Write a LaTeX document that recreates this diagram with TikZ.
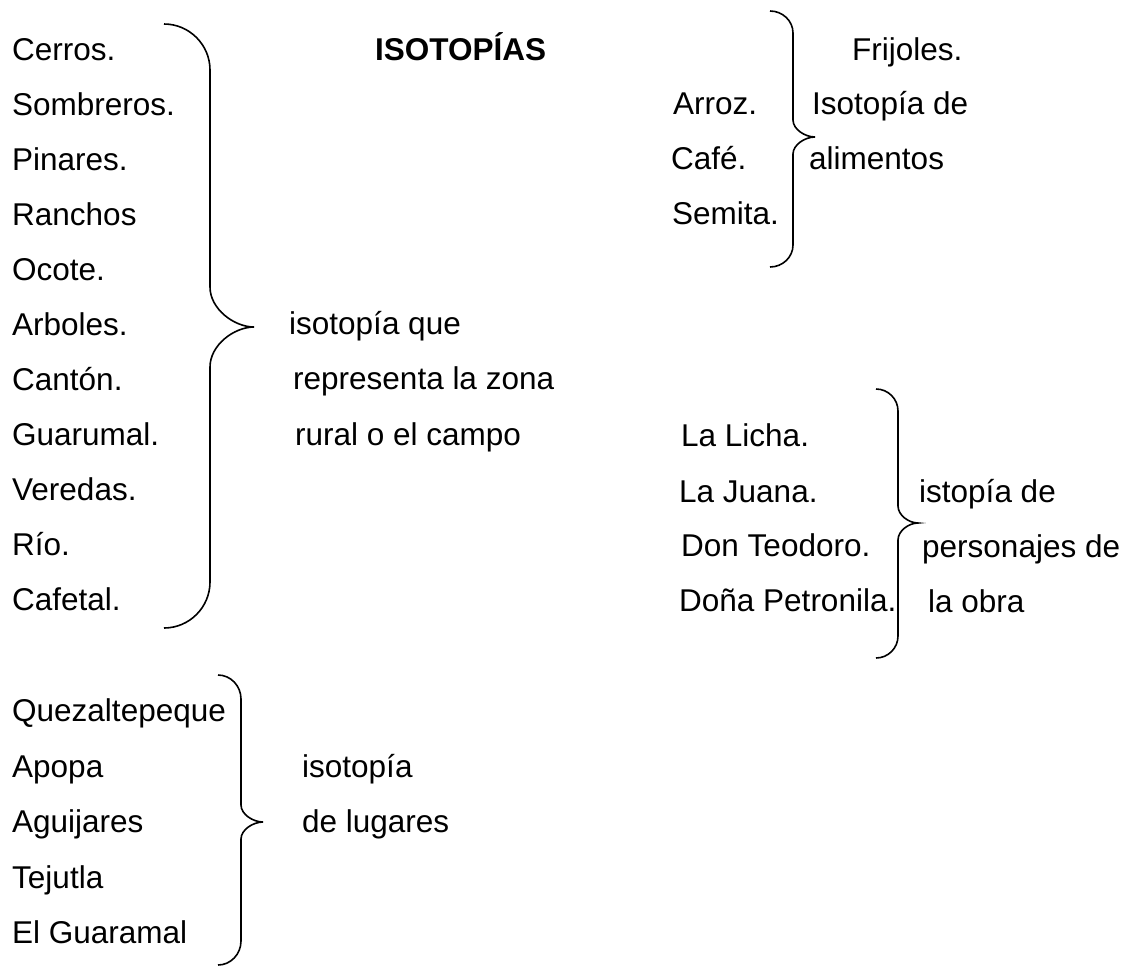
\documentclass[tikz,border=0pt]{standalone}
\usepackage{fontspec}
\setmainfont{Liberation Sans}
\newcommand\drawbrace[8]{% x0 x1 x2 ytop ym ybot rend rmid
  \draw[bracestyle] (#1,#4) .. controls ({#1+0.55*(#2-#1)},#4) and (#2,{#4+0.45*#7}) .. (#2,{#4+#7})
    -- (#2,{#5-#8}) .. controls (#2,{#5-0.45*#8}) and ({#2+0.55*(#3-#2)},#5) .. (#3,#5)
    .. controls ({#2+0.55*(#3-#2)},#5) and (#2,{#5+0.45*#8}) .. (#2,{#5+#8})
    -- (#2,{#6-#7}) .. controls (#2,{#6-0.45*#7}) and ({#1+0.55*(#2-#1)},#6) .. (#1,#6);}
\tikzset{
  lbl/.style={anchor=base west, inner sep=0pt, font=\fontsize{31.5}{38}\selectfont},
  ttl/.style={lbl, font=\fontsize{31.5}{38}\selectfont\bfseries},
  bracestyle/.style={line width=1.6pt, black}
}
\begin{document}
\begin{tikzpicture}[x=1pt,y=-1pt]
\useasboundingbox (0,0) rectangle (1139,967);
% left list
\node[lbl] (c1) at (12,60) {Cerros.};
\node[lbl] (c2) at (12,115) {Sombreros.};
\node[lbl] (c3) at (12,170) {Pinares.};
\node[lbl] (c4) at (12,225) {Ranchos};
\node[lbl] (c5) at (12,280) {Ocote.};
\node[lbl] (c6) at (12,335) {Arboles.};
\node[lbl] (c7) at (12,390) {Cantón.};
\node[lbl] (c8) at (12,445) {Guarumal.};
\node[lbl] (c9) at (12,500) {Veredas.};
\node[lbl] (c10) at (12,555) {Río.};
\node[lbl] (c11) at (12,610) {Cafetal.};
\drawbrace{164}{210}{254}{24}{327}{628}{46}{40}
\node[lbl] (r1) at (289,334) {isotopía que};
\node[lbl] (r2) at (293,389) {representa la zona};
\node[lbl] (r3) at (295,445) {rural o el campo};
% title
\node[ttl] (title) at (375,60) {ISOTOPÍAS};
% foods
\node[lbl] (f1) at (852,60) {Frijoles.};
\node[lbl] (f2) at (673,114) {Arroz.};
\node[lbl] (f3) at (671,169) {Café.};
\node[lbl] (f4) at (672,224) {Semita.};
\drawbrace{770}{793}{815}{11}{137}{267}{22}{17}
\node[lbl] (fa) at (812,114) {Isotopía de};
\node[lbl] (fb) at (809,169) {alimentos};
% characters
\node[lbl] (p1) at (681,446) {La Licha.};
\node[lbl] (p2) at (679,502) {La Juana.};
\node[lbl] (p3) at (681,556) {Don Teodoro.};
\node[lbl] (p4) at (679,611) {Doña Petronila.};
\drawbrace{876}{898}{918}{389}{523}{658}{22}{17}
\node[lbl] (pa) at (919,502) {istopía de};
\node[lbl] (pb) at (922,557) {personajes de};
\node[lbl] (pc) at (928,612) {la obra};
% places
\node[lbl] (l1) at (12,721) {Quezaltepeque};
\node[lbl] (l2) at (12,777) {Apopa};
\node[lbl] (l3) at (12,832) {Aguijares};
\node[lbl] (l4) at (12,888) {Tejutla};
\node[lbl] (l5) at (12,943) {El Guaramal};
\drawbrace{218}{241}{263}{675}{822}{965}{24}{17}
\node[lbl] (la) at (302,777) {isotopía};
\node[lbl] (lb) at (302,832) {de lugares};
\end{tikzpicture}
\end{document}
